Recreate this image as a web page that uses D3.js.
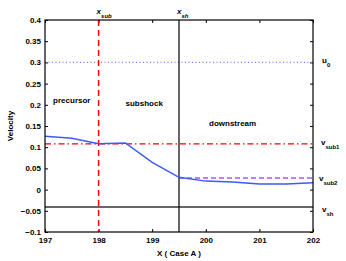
<!DOCTYPE html>
<html>
<head>
<meta charset="utf-8">
<script src="https://cdn.jsdelivr.net/npm/d3@7"></script>
<style>
  body { margin: 0; background: #fff; }
  svg text { font-family: "Liberation Sans", Arial, sans-serif; font-weight: bold; }
</style>
</head>
<body>
<div id="chart"></div>
<script>
// velocity profile (blue curve)
const xVals = [197, 197.5, 198, 198.5, 199, 199.5, 200, 200.5, 201, 201.5, 202];
const velocity = [0.126, 0.121, 0.108, 0.110, 0.064, 0.029, 0.020, 0.018, 0.013, 0.013, 0.016];

// reference levels
const u0 = 0.3;
const vSub1 = 0.108;
const vSub2 = 0.0275;
const vSh = -0.041;
const xSub = 198;
const xSh = 199.5;

const xTicks = [197, 198, 199, 200, 201, 202];
const yTicks = [-0.1, -0.05, 0, 0.05, 0.1, 0.15, 0.2, 0.25, 0.3, 0.35, 0.4];

const margin = { top: 20, right: 33, bottom: 29, left: 45 },
  width = 346 - margin.left - margin.right,
  height = 261 - margin.top - margin.bottom;

const svg = d3.select("#chart")
  .append("svg")
  .attr("width", 346)
  .attr("height", 261)
  .append("g")
  .attr("transform", `translate(${margin.left},${margin.top})`);

const x = d3.scaleLinear().domain([197, 202]).range([0, width]);
const y = d3.scaleLinear().domain([-0.1, 0.4]).range([height, 0]);

const fmtY = d => d === 0 ? "0" : (d < 0 ? "\u2212" + Math.abs(d) : String(d));

// axes with inward ticks
svg.append("g")
  .attr("transform", `translate(0,${height})`)
  .call(d3.axisBottom(x).tickValues(xTicks).tickSize(-3).tickPadding(5).tickFormat(d3.format("d")))
  .call(g => g.select(".domain").remove())
  .attr("font-size", 8);

svg.append("g")
  .call(d3.axisTop(x).tickValues(xTicks).tickSize(-3).tickFormat(""))
  .call(g => g.select(".domain").remove());

svg.append("g")
  .call(d3.axisLeft(y).tickValues(yTicks).tickSize(-3).tickPadding(4).tickFormat(fmtY))
  .call(g => g.select(".domain").remove())
  .attr("font-size", 8);

svg.append("g")
  .attr("transform", `translate(${width},0)`)
  .call(d3.axisRight(y).tickValues(yTicks).tickSize(-3).tickFormat(""))
  .call(g => g.select(".domain").remove());

svg.selectAll(".tick text").attr("fill", "#000");

// reference lines
svg.append("line")
  .attr("x1", x(197)).attr("x2", x(202))
  .attr("y1", y(u0)).attr("y2", y(u0))
  .attr("stroke", "#7a7aff").attr("stroke-width", 1.2)
  .attr("stroke-dasharray", "1,2.5");

svg.append("line")
  .attr("x1", x(197)).attr("x2", x(202))
  .attr("y1", y(vSub1)).attr("y2", y(vSub1))
  .attr("stroke", "#ff0000").attr("stroke-width", 1.2)
  .attr("stroke-dasharray", "6,3,1.5,3");

svg.append("line")
  .attr("x1", x(xSh)).attr("x2", x(202))
  .attr("y1", y(vSub2)).attr("y2", y(vSub2))
  .attr("stroke", "#b050ff").attr("stroke-width", 1.5)
  .attr("stroke-dasharray", "5,3");

svg.append("line")
  .attr("x1", x(197)).attr("x2", x(202))
  .attr("y1", y(vSh)).attr("y2", y(vSh))
  .attr("stroke", "#333").attr("stroke-width", 1.5);

svg.append("line")
  .attr("x1", x(xSub)).attr("x2", x(xSub))
  .attr("y1", y(0.4)).attr("y2", y(-0.1))
  .attr("stroke", "#ff0000").attr("stroke-width", 1.5)
  .attr("stroke-dasharray", "6,4");

svg.append("line")
  .attr("x1", x(xSh)).attr("x2", x(xSh))
  .attr("y1", y(0.4)).attr("y2", y(-0.1))
  .attr("stroke", "#000").attr("stroke-width", 1.2);

// velocity curve
const line = d3.line().x((d, i) => x(xVals[i])).y(d => y(d));
svg.append("path")
  .datum(velocity)
  .attr("fill", "none")
  .attr("stroke", "#3a5aff")
  .attr("stroke-width", 1.5)
  .attr("d", line);

// box
svg.append("rect")
  .attr("width", width).attr("height", height)
  .attr("fill", "none").attr("stroke", "#000").attr("stroke-width", 1.2);

// region labels
const region = (txt, xv, yv) => svg.append("text")
  .attr("x", x(xv)).attr("y", y(yv))
  .attr("font-size", 8).attr("text-anchor", "middle").text(txt);
region("precursor", 197.5, 0.205);
region("subshock", 198.85, 0.196);
region("downstream", 200.5, 0.15);

// subscripted labels
const subLabel = (base, sub, px, py, italic) => {
  const t = svg.append("text").attr("x", px).attr("y", py).attr("font-size", 8);
  t.append("tspan").text(base).attr("font-style", italic ? "italic" : null);
  t.append("tspan").text(sub).attr("font-size", 6).attr("dy", 4).attr("font-style", italic ? "italic" : null);
};
subLabel("x", "sub", x(xSub) - 2, -6, true);
subLabel("x", "sh", x(xSh) - 2, -6, true);
subLabel("u", "0", width + 9, y(u0) + 1, false);
subLabel("v", "sub1", width + 8, y(vSub1) + 1, false);
subLabel("v", "sub2", width + 6, y(vSub2) + 3, false);
subLabel("v", "sh", width + 9, y(vSh) + 5, false);

// axis titles
svg.append("text")
  .attr("text-anchor", "middle")
  .attr("x", width / 2).attr("y", height + 24)
  .attr("font-size", 8)
  .text("X ( Case A )");

svg.append("text")
  .attr("text-anchor", "middle")
  .attr("transform", `translate(${-32}, ${height / 2}) rotate(-90)`)
  .attr("font-size", 8)
  .text("Velocity");
</script>
</body>
</html>
